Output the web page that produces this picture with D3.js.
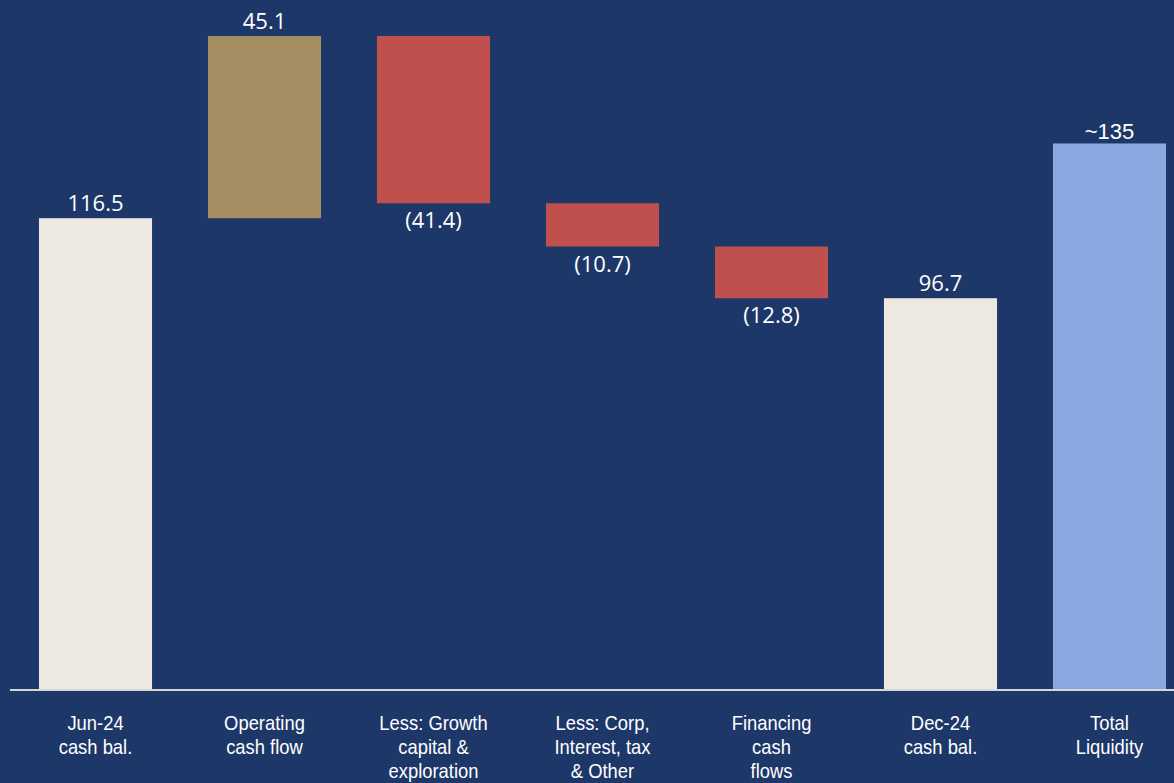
<!DOCTYPE html>
<html>
<head>
<meta charset="utf-8">
<script src="https://cdn.jsdelivr.net/npm/d3@7"></script>
<style>
  html, body { margin: 0; padding: 0; background: #1E3769; }
  svg { display: block; }
</style>
</head>
<body>
<svg id="viz"></svg>
<script>
// waterfall data
const categories = ["Jun-24 cash bal.", "Operating cash flow", "Less: Growth capital & exploration",
    "Less: Corp, Interest, tax & Other", "Financing cash flows", "Dec-24 cash bal.", "Total Liquidity"]
const catLines = [
    ["Jun-24", "cash bal."],
    ["Operating", "cash flow"],
    ["Less: Growth", "capital &", "exploration"],
    ["Less: Corp,", "Interest, tax", "& Other"],
    ["Financing", "cash", "flows"],
    ["Dec-24", "cash bal."],
    ["Total", "Liquidity"]
]
const values = [116.5, 45.1, -41.4, -10.7, -12.8, 96.7, 135]
const kinds = ["total", "up", "down", "down", "down", "total", "est"]
const valueLabels = ["116.5", "45.1", "(41.4)", "(10.7)", "(12.8)", "96.7", "~135"]

const width = 1174,
    height = 783
const baseY = 689

const colors = { total: "#EDE9E0", up: "#A58F62", down: "#C0504D", est: "#8AA7DF" }

// running totals for the floating bars
let run = 0
const data = categories.map((c, i) => {
    let lo, hi
    if (kinds[i] == "up" || kinds[i] == "down") {
        lo = run
        run = run + values[i]
        hi = run
    } else {
        lo = 0
        hi = values[i]
        run = values[i]
    }
    return { cat: c, lines: catLines[i], kind: kinds[i], y0: Math.min(lo, hi), y1: Math.max(lo, hi), label: valueLabels[i] }
})

const x = d3.scaleBand()
    .domain(categories)
    .range([11, 1194])
    .paddingInner(0.331)
    .paddingOuter(0.1655)

const y = d3.scaleLinear()
    .domain([0, 170.5])
    .range([baseY, 0])

const svg = d3.select("#viz")
    .attr("width", width)
    .attr("height", height)
    .attr("viewBox", [0, 0, width, height])

svg.append("rect").attr("width", width).attr("height", height).attr("fill", "#1E3769")

svg.append("g").attr("class", "bars")
    .selectAll("rect")
    .data(data)
    .join("rect")
    .attr("x", d => x(d.cat))
    .attr("width", x.bandwidth())
    .attr("y", d => y(d.y1))
    .attr("height", d => y(d.y0) - y(d.y1))
    .attr("fill", d => colors[d.kind])

// value labels: above for positive, below for negative steps
svg.append("g").attr("class", "vals")
    .selectAll("text")
    .data(data)
    .join("text")
    .attr("x", d => x(d.cat) + x.bandwidth() / 2)
    .attr("y", d => d.kind == "down" ? y(d.y0) + 25 : y(d.y1) - (d.kind == "est" ? 4 : 7))
    .attr("text-anchor", "middle")
    .attr("fill", "#FFFFFF")
    .style("font-family", d => d.kind == "est" ? "'Liberation Sans', Arial, sans-serif" : "'Open Sans', 'Noto Sans', sans-serif")
    .style("font-size", "22px")
    .text(d => d.label)

// x axis
const xAxis = g => g
    .attr("transform", `translate(0,${baseY + 1})`)
    .call(d3.axisBottom(x).tickSize(0).tickSizeOuter(0).tickFormat(""))
    .call(g => g.select(".domain").attr("stroke", "#D6D6D6").attr("stroke-width", 2).attr("d", "M10,0H1174"))

svg.append("g").attr("class", "xaxis").call(xAxis)

// category labels, slightly condensed like the original
const labels = svg.append("g").attr("class", "cats")
    .selectAll("text")
    .data(data)
    .join("text")
    .attr("transform", d => `translate(${x(d.cat) + x.bandwidth() / 2},730) scale(0.92,1)`)
    .attr("text-anchor", "middle")
    .attr("fill", "#FFFFFF")
    .style("font-family", "'Liberation Sans', Arial, sans-serif")
    .style("font-size", "20px")

labels.selectAll("tspan")
    .data(d => d.lines)
    .join("tspan")
    .attr("x", 0)
    .attr("dy", (d, i) => i == 0 ? 0 : 24)
    .text(d => d)
</script>
</body>
</html>
